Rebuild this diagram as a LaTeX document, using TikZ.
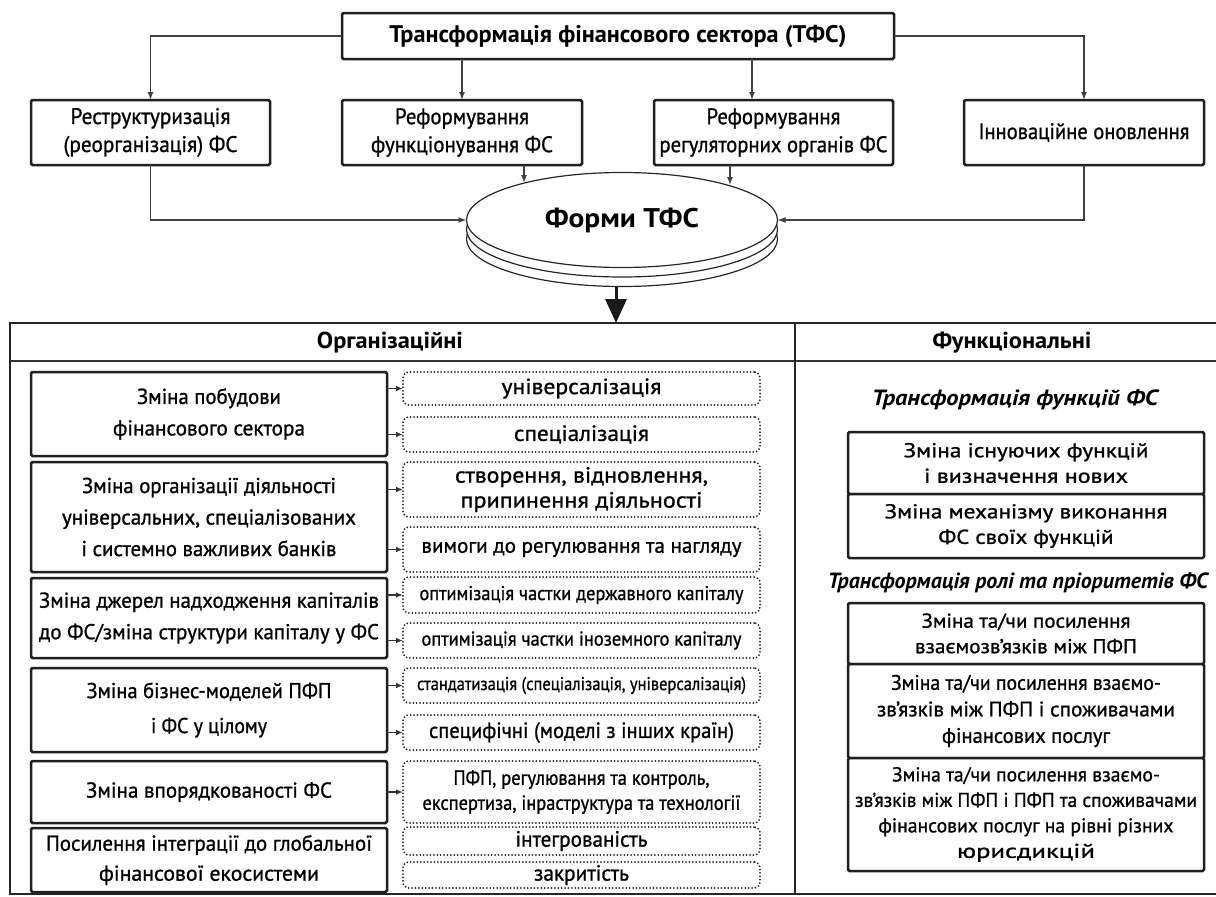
\documentclass[tikz,border=0pt]{standalone}
\usepackage{fontspec}
\usepackage{graphicx}
\setmainfont{PT Sans}
\newfontfamily\rg{PT Sans}[FakeBold=1.0]
\usetikzlibrary{arrows.meta,calc,shapes.geometric}
\newcommand{\fsz}[2]{\fontsize{#1}{#2}\selectfont}
\newcommand{\wl}[2]{\resizebox{#1pt}{\height}{#2}}
\begin{document}
\begin{tikzpicture}[x=1pt,y=-1pt,
  every node/.style={inner sep=0pt, outer sep=0pt, align=center, text=black},
  sbox/.style={draw=black!88, line width=2.5pt, rounded corners=1.5pt, fill=white},
  dbox/.style={draw=black!85, line width=2pt, dash pattern=on 0pt off 3.4pt, line cap=round, rounded corners=6pt},
  conn/.style={draw=black!75, line width=1.3pt, -{Latex[length=8pt,width=6pt]}},
  sarr/.style={draw=black!80, line width=1.3pt, -{Latex[length=7pt,width=5.5pt]}},
  ttl/.style={font=\bfseries\fsz{24}{28}},
  rtwo/.style={font=\rg\fsz{22.5}{28}},
  frm/.style={font=\bfseries\fsz{27}{30}},
  hdr/.style={font=\bfseries\fsz{23}{26}},
  lft/.style={font=\rg\fsz{21.5}{31.5}},
  dtx/.style={font=\rg\fsz{22}{25}},
  rgt/.style={font=\rg\fsz{20}{25.5}},
  ital/.style={font=\bfseries\itshape\fsz{22}{25}},
  lw/.style={minimum width=356pt},
  dw/.style={minimum width=357pt},
  rw/.style={minimum width=356pt}
]
\useasboundingbox (0,0) rectangle (1216,897);
\clip (0,0) rectangle (1216,897);

% top part
\node[sbox, ttl, minimum width=552pt, minimum height=46pt] (T) at (618,36) {\wl{457}{Трансформація фінансового сектора (ТФС)}};
\node[sbox, rtwo, minimum width=239pt, minimum height=65pt] (b1) at (150.5,132.5) {\wl{160}{Реструктуризація}\\\wl{174}{(реорганізація) ФС}};
\node[sbox, rtwo, minimum width=240pt, minimum height=65pt] (b2) at (462,132.5) {\wl{134}{Реформування}\\\wl{182}{функціонування ФС}};
\node[sbox, rtwo, minimum width=239pt, minimum height=65pt] (b3) at (773.5,132.5) {\wl{134}{Реформування}\\\wl{228}{регуляторних органів ФС}};
\node[sbox, rtwo, minimum width=240pt, minimum height=65pt] (b4) at (1084,132.5) {\wl{211}{Інноваційне оновлення}};

% stacked ellipse
\draw[draw=black!85, line width=1.2pt, fill=white] (622,239) ellipse [x radius=155.5pt, y radius=47.5pt];
\draw[draw=black!85, line width=1.2pt, fill=white] (622,229.5) ellipse [x radius=155.5pt, y radius=47.5pt];
\node[ellipse, draw=black!85, line width=1.2pt, fill=white, frm, minimum width=311pt, minimum height=95pt] (F) at (622,220) {\wl{154}{Форми ТФС}};

\draw[conn] (T.west) -| (b1.north);
\draw[conn] (T.south -| b2.north) -- (b2.north);
\draw[conn] (T.south -| 752,0) -- (b3.north -| 752,0);
\draw[conn] (T.east) -| (b4.north);
\coordinate (e2) at (524,183);
\coordinate (e3) at (730,185);
\draw[conn] (b2.south -| e2) -- (e2);
\draw[conn] (b3.south -| e3) -- (e3);
\draw[conn] (b1.south) |- (F.west);
\draw[conn] (b4.south) |- (F.east);

\coordinate (stackbot) at (616,287);
\coordinate (tabtop) at (616,323);
\draw[draw=black!90, line width=3pt, -{Triangle[length=24pt,width=21pt]}] (stackbot) -- (tabtop);

% table
\draw[draw=black!85, line width=2.4pt] (10,323) rectangle (1232,894);
\draw[draw=black!80, line width=1.6pt] (10,361) -- (1232,361);
\draw[draw=black!85, line width=2.4pt] (795,323) -- (795,894);
\node[hdr] (hOrg) at (390,343) {\wl{146}{Організаційні}};
\node[hdr] (hFun) at (1012,343) {\wl{159}{Функціональні}};

% left solid boxes
\node[sbox, lft, lw, minimum height=84pt] (A) at (209,414) {\wl{144}{Зміна побудови}\\\wl{192}{фінансового сектора}};
\node[sbox, lft, lw, minimum height=110pt] (B) at (209,517) {\wl{254}{Зміна організації діяльності}\\\wl{294}{універсальних, спеціалізованих}\\\wl{255}{і системно важливих банків}};
\node[sbox, lft, lw, minimum height=80pt] (C) at (209,618) {\wl{340}{Зміна джерел надходження капіталів}\\\wl{340}{до ФС/зміна структури капіталу у ФС}};
\node[sbox, lft, lw, minimum height=84pt, font=\rg\fsz{21.5}{35}] (D) at (209,710) {\wl{245}{Зміна бізнес-моделей ПФП}\\\wl{116}{і ФС у цілому}};
\node[sbox, lft, lw, minimum height=62pt] (E) at (209,792) {\wl{246}{Зміна впорядкованості ФС}};
\node[sbox, lft, lw, minimum height=64pt, font=\rg\fsz{21.5}{30}] (G) at (209,860) {\wl{326}{Посилення інтеграції до глобальної}\\\wl{220}{фінансової екосистеми}};

% dotted boxes
\node[dbox, dtx, dw, minimum height=33pt] (d1) at (581.5,388.5) {\wl{160}{універсалізація}};
\node[dbox, dtx, dw, minimum height=35pt] (d2) at (581.5,434.5) {\wl{135}{спеціалізація}};
\node[dbox, dtx, dw, minimum height=55pt] (d3) at (581.5,489.5) {\wl{253}{створення, відновлення,}\\\wl{242}{припинення діяльності}};
\node[dbox, dw, minimum height=45pt, font=\rg\fsz{21}{25}] (d4) at (581.5,549.5) {\wl{320}{вимоги до регулювання та нагляду}};
\node[dbox, dw, minimum height=36pt, font=\rg\fsz{20}{25}] (d5) at (581.5,595) {\wl{324}{оптимізація частки державного капіталу}};
\node[dbox, dw, minimum height=35pt, font=\rg\fsz{20}{25}] (d6) at (581.5,640.5) {\wl{320}{оптимізація частки іноземного капіталу}};
\node[dbox, dw, minimum height=35pt, font=\rg\fsz{18.5}{25}] (d7) at (581.5,685.5) {\wl{329}{стандатизація (спеціалізація, універсалізація)}};
\node[dbox, dtx, dw, minimum height=35pt] (d8) at (581.5,732.5) {\wl{305}{специфічні (моделі з інших країн)}};
\node[dbox, dw, minimum height=62pt, font=\rg\fsz{20.5}{25}] (d9) at (581.5,792) {\wl{256}{ПФП, регулювання та контроль,}\\\wl{318}{експертиза, інраструктура та технології}};
\node[dbox, dtx, dw, minimum height=28pt] (d10) at (581.5,841) {\wl{132}{інтегрованість}};
\node[dbox, dtx, dw, minimum height=26pt] (d11) at (581.5,875) {\wl{95}{закритість}};

\foreach \s/\t in {A/d1, A/d2, B/d3, B/d4, C/d5, C/d6, D/d7, D/d8, E/d9}
  \draw[sarr] (\t.west -| \s.east) -- (\t.west);

% right column
\node[ital] (i1) at (1015,400) {\wl{286}{Трансформація функцій ФС}};
\node[sbox, rgt, rw, minimum height=62pt] (r1) at (1026,463) {\wl{245}{Зміна існуючих функцій}\\\wl{204}{і визначення нових}};
\node[sbox, rgt, rw, minimum height=64pt] (r2) at (1026,526) {\wl{283}{Зміна механізму виконання}\\\wl{175}{ФС своїх функцій}};
\node[ital] (i2) at (1018,583) {\wl{380}{Трансформація ролі та пріоритетів ФС}};
\node[sbox, rgt, rw, minimum height=61pt] (r3) at (1026,633.5) {\wl{209}{Зміна та/чи посилення}\\\wl{222}{взаємозв’язків між ПФП}};
\node[sbox, rw, minimum height=94pt, font=\rg\fsz{21}{26.5}] (r4) at (1026,711) {\wl{270}{Зміна та/чи посилення взаємо-}\\\wl{298}{зв’язків між ПФП і споживачами}\\\wl{168}{фінансових послуг}};
\node[sbox, rgt, rw, minimum height=113pt] (r5) at (1026,814.5) {\wl{268}{Зміна та/чи посилення взаємо-}\\\wl{342}{зв’язків між ПФП і ПФП та споживачами}\\\wl{295}{фінансових послуг на рівні різних}\\\wl{138}{юрисдикцій}};
\end{tikzpicture}
\end{document}
